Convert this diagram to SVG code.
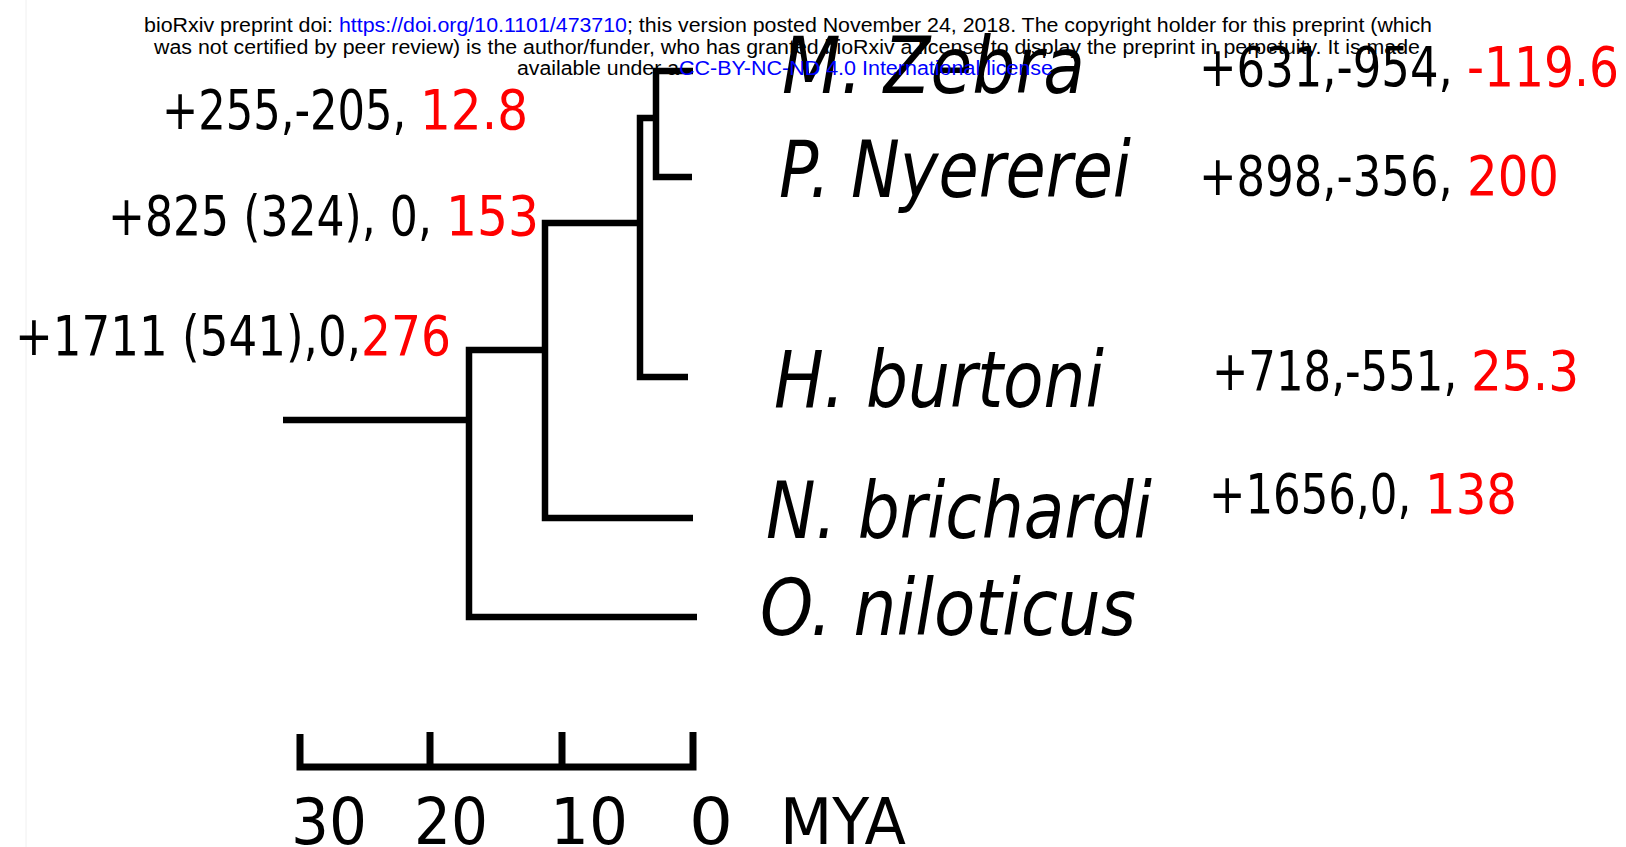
<svg xmlns="http://www.w3.org/2000/svg" width="1626" height="847" viewBox="0 0 1626 847">
<style>
.num{font-family:"DejaVu Sans",sans-serif;font-size:55px;fill:#000}
.red{fill:#ff0000}
.sp{font-family:"DejaVu Sans",sans-serif;font-size:78px;font-style:italic;fill:#000}
.ax{font-family:"DejaVu Sans",sans-serif;font-size:64px;fill:#000}
.hd{font-family:"Liberation Sans",Arial,sans-serif;font-size:19.5px;fill:#000}
.lnk{fill:#0000ff}
.br{fill:none;stroke:#000;stroke-width:6.5;stroke-linejoin:miter;stroke-linecap:butt}
</style>
<rect x="0" y="0" width="1626" height="847" fill="#fff"/>
<line x1="26" y1="0" x2="26" y2="847" stroke="#f0f0f0" stroke-width="1"/>
<g id="connectors">
<path class="br" d="M283,420 H469"/>
<path class="br" d="M697,617 H469 V350 H545"/>
<path class="br" d="M693,518 H545 V223 H640"/>
<path class="br" d="M688,377 H640 V118 H656"/>
<path class="br" d="M692,177 H656 V71 H693"/>
</g>
<g id="node-mzebra">
<text class="sp" x="782" y="93" textLength="303" lengthAdjust="spacingAndGlyphs">M. Zebra</text>
<text class="num" x="1199" y="86" xml:space="preserve" textLength="268" lengthAdjust="spacingAndGlyphs">+631,-954, </text>
<text class="num red" x="1467" y="86" textLength="152" lengthAdjust="spacingAndGlyphs">-119.6</text>
</g>
<g id="node-pnyererei">
<text class="sp" x="779" y="197" textLength="352" lengthAdjust="spacingAndGlyphs">P. Nyererei</text>
<text class="num" x="1199" y="195" xml:space="preserve" textLength="268" lengthAdjust="spacingAndGlyphs">+898,-356, </text>
<text class="num red" x="1467" y="195" textLength="92" lengthAdjust="spacingAndGlyphs">200</text>
</g>
<g id="node-hburtoni">
<text class="sp" x="774" y="407" textLength="330" lengthAdjust="spacingAndGlyphs">H. burtoni</text>
<text class="num" x="1212" y="390" xml:space="preserve" textLength="259" lengthAdjust="spacingAndGlyphs">+718,-551, </text>
<text class="num red" x="1471" y="390" textLength="108" lengthAdjust="spacingAndGlyphs">25.3</text>
</g>
<g id="node-nbrichardi">
<text class="sp" x="766" y="538" textLength="386" lengthAdjust="spacingAndGlyphs">N. brichardi</text>
<text class="num" x="1209" y="513" xml:space="preserve" textLength="216" lengthAdjust="spacingAndGlyphs">+1656,0, </text>
<text class="num red" x="1425" y="513" textLength="92" lengthAdjust="spacingAndGlyphs">138</text>
</g>
<g id="node-oniloticus">
<text class="sp" x="760" y="635" textLength="376" lengthAdjust="spacingAndGlyphs">O. niloticus</text>
</g>
<g id="node-inner-zebra-nyererei">
<text class="num" x="162" y="129" xml:space="preserve" textLength="258" lengthAdjust="spacingAndGlyphs">+255,-205, </text>
<text class="num red" x="420" y="129" textLength="108" lengthAdjust="spacingAndGlyphs">12.8</text>
</g>
<g id="node-inner-burtoni">
<text class="num" x="108" y="235" xml:space="preserve" textLength="338" lengthAdjust="spacingAndGlyphs">+825 (324), 0, </text>
<text class="num red" x="446" y="235" textLength="93" lengthAdjust="spacingAndGlyphs">153</text>
</g>
<g id="node-inner-brichardi">
<text class="num" x="15" y="355" textLength="346" lengthAdjust="spacingAndGlyphs">+1711 (541),0,</text>
<text class="num red" x="361" y="355" textLength="90" lengthAdjust="spacingAndGlyphs">276</text>
</g>
<g id="scale-bar">
<path class="br" style="stroke-width:7" d="M300,734 V767 H693 V732"/>
<path class="br" style="stroke-width:7" d="M430,732 V767 M562,732 V767"/>
<text class="ax" x="291" y="844" textLength="76" lengthAdjust="spacingAndGlyphs">30</text>
<text class="ax" x="414" y="844" textLength="74" lengthAdjust="spacingAndGlyphs">20</text>
<text class="ax" x="550" y="844" textLength="78" lengthAdjust="spacingAndGlyphs">10</text>
<text class="ax" x="689" y="844" textLength="44" lengthAdjust="spacingAndGlyphs">0</text>
<text class="ax" x="780" y="844" textLength="126" lengthAdjust="spacingAndGlyphs">MYA</text>
</g>
<g id="header">
<text class="hd" x="144" y="32" xml:space="preserve" textLength="195" lengthAdjust="spacingAndGlyphs">bioRxiv preprint doi: </text>
<text class="hd lnk" x="339" y="32" textLength="288" lengthAdjust="spacingAndGlyphs">https://doi.org/10.1101/473710</text>
<text class="hd" x="627" y="32" textLength="805" lengthAdjust="spacingAndGlyphs">; this version posted November 24, 2018. The copyright holder for this preprint (which</text>
<text class="hd" x="154" y="53.5" textLength="1266" lengthAdjust="spacingAndGlyphs">was not certified by peer review) is the author/funder, who has granted bioRxiv a license to display the preprint in perpetuity. It is made</text>
<text class="hd" x="517" y="75" textLength="162" lengthAdjust="spacingAndGlyphs">available under a</text>
<text class="hd lnk" x="679" y="75" textLength="374" lengthAdjust="spacingAndGlyphs">CC-BY-NC-ND 4.0 International license</text>
</g>
</svg>
